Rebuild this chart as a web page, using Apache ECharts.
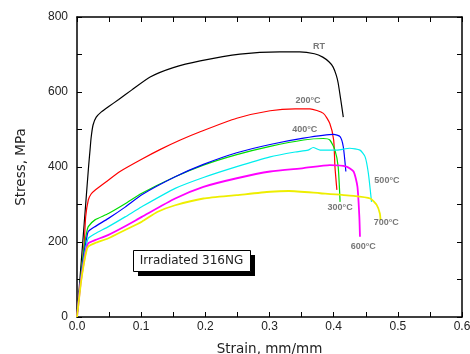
<!DOCTYPE html>
<html><head><meta charset="utf-8">
<script src="https://cdn.jsdelivr.net/npm/echarts@6/dist/echarts.min.js"></script>
<style>html,body{margin:0;padding:0;background:#fff}#c{width:470px;height:354px}</style>
</head><body><div id="c"></div>
<script>
// ---- data ----
const seriesNames = ['RT', '200°C', '300°C', '400°C', '500°C', '600°C', '700°C'];
const rtStrain   = [0,0.0045,0.009,0.0135,0.018,0.0203,0.022,0.025,0.03,0.038,0.05,0.065,0.085,0.114,0.15,0.192,0.254,0.316,0.347,0.37,0.383,0.393,0.399,0.404,0.407,0.411,0.415];
const rtStress   = [0,100,200,300,400,445,478,512,533,547,562,580,605,640,665,683,701,707,707,702,693,680,667,645,624,580,533];
const t200Strain = [0,0.006,0.0114,0.0135,0.0176,0.022,0.028,0.045,0.067,0.1,0.13,0.161,0.192,0.249,0.301,0.34,0.363,0.384,0.394,0.4,0.402,0.405];
const t200Stress = [0,104,201,267,312,328,338,360,388,420,447,472,494,530,550,555,555,543,516,472,401,339];
const t300Strain = [0,0.006,0.011,0.015,0.0176,0.028,0.049,0.075,0.101,0.153,0.197,0.249,0.301,0.353,0.384,0.394,0.402,0.407,0.41];
const t300Stress = [0,110,185,225,241,259,276,302,330,374,405,433,455,472,476,472,445,401,307];
const t400Strain = [0,0.006,0.011,0.015,0.0176,0.028,0.049,0.075,0.101,0.153,0.197,0.249,0.301,0.353,0.4,0.41,0.415,0.419];
const t400Stress = [0,105,170,210,228,241,263,293,326,374,407,438,460,477,487,481,454,388];
const t500Strain = [0,0.006,0.011,0.015,0.0176,0.028,0.049,0.075,0.101,0.153,0.197,0.249,0.301,0.34,0.36,0.368,0.379,0.405,0.425,0.441,0.449,0.454,0.459];
const t500Stress = [0,100,160,195,210,222,241,267,294,343,372,401,427,440,445,452,445,445,450,445,427,384,307];
const t600Strain = [0,0.006,0.011,0.015,0.0176,0.028,0.049,0.075,0.101,0.153,0.197,0.249,0.301,0.353,0.394,0.42,0.431,0.437,0.44,0.441];
const t600Stress = [0,95,150,185,197,205,219,242,267,316,347,370,388,397,405,401,388,348,268,214];
const t700Strain = [0,0.006,0.011,0.015,0.0176,0.028,0.049,0.075,0.101,0.125,0.153,0.197,0.249,0.301,0.33,0.379,0.431,0.457,0.467,0.472,0.473];
const t700Stress = [0,90,145,178,188,197,210,232,254,280,298,316,325,334,336,330,323,316,299,276,259];
const labelStrain = [0.377,0.360,0.410,0.355,0.483,0.446,0.482];
const labelStress = [720,576,293,499,365,189,251];
const xTicks = ['0.0','0.1','0.2','0.3','0.4','0.5','0.6'];
const yTicks = ['0','200','400','600','800'];

const strains = [rtStrain,t200Strain,t300Strain,t400Strain,t500Strain,t600Strain,t700Strain];
const stresses = [rtStress,t200Stress,t300Stress,t400Stress,t500Stress,t600Stress,t700Stress];
const colors = ['#000000','#ff0000','#00dd00','#0000ff','#00eeee','#ff00ff','#eeee00'];
const widths = [1.2,1.2,1.2,1.2,1.2,1.8,1.8];

const chart = echarts.init(document.getElementById('c'), null, {renderer:'canvas'});
const font = 'Liberation Sans, Arial, sans-serif';
const lines = seriesNames.map((n,i)=>({
  name:n, type:'line', showSymbol:false, symbol:'none', animation:false,
  smooth:0.2,
  lineStyle:{color:colors[i], width:widths[i]},
  data: strains[i].map((x,k)=>[x, stresses[i][k]]), z:2
}));
const labelSeries = {
  type:'scatter', symbolSize:0, animation:false, silent:true,
  data: seriesNames.map((n,i)=>({value:[labelStrain[i],labelStress[i]], name:n})),
  label:{show:true, position:'inside', formatter:p=>p.name, color:'#555', fontSize:9, fontWeight:'bold', fontFamily:font}
};
const axisCommon = {
  axisLine:{show:true, onZero:false, lineStyle:{color:'#000', width:1.5}},
  axisTick:{show:true, inside:true, length:5, lineStyle:{color:'#000', width:1}},
  minorTick:{show:true, splitNumber:2, length:5, lineStyle:{color:'#000', width:1}},
  splitLine:{show:false}
};
chart.setOption({
  animation:false,
  backgroundColor:'#fff',
  grid:{left:77, right:8, top:17, bottom:37, show:false, containLabel:false, outerBoundsMode:'none'},
  xAxis:[
    Object.assign({type:'value', min:0, max:0.6, interval:0.1, position:'bottom',
      name:'Strain, mm/mm', nameLocation:'middle', nameGap:25,
      nameTextStyle:{fontFamily:'DejaVu Sans', fontSize:13.5, color:'#222'},
      axisLabel:{formatter:v=>xTicks[Math.round(v*10)], fontFamily:font, fontSize:12, color:'#222', margin:4}}, axisCommon),
    Object.assign({type:'value', min:0, max:0.6, interval:0.1, position:'top', axisLabel:{show:false}}, axisCommon)
  ],
  yAxis:[
    Object.assign({type:'value', min:0, max:800, interval:200, position:'left',
      name:'Stress, MPa', nameLocation:'middle', nameGap:49, nameRotate:90,
      nameTextStyle:{fontFamily:'DejaVu Sans', fontSize:13.5, color:'#222'},
      axisLabel:{formatter:v=>yTicks[Math.round(v/200)], fontFamily:font, fontSize:12, color:'#222', margin:9}}, axisCommon),
    Object.assign({type:'value', min:0, max:800, interval:200, position:'right', axisLabel:{show:false}}, axisCommon)
  ],
  graphic:[
    {type:'rect', left:138, top:255, shape:{width:117, height:21}, style:{fill:'#000'}, z:10},
    {type:'rect', left:133, top:250, shape:{width:117, height:21}, style:{fill:'#fff', stroke:'#000', lineWidth:1}, z:11},
    {type:'text', z:12, style:{text:'Irradiated 316NG', fontFamily:'DejaVu Sans', fontSize:12, fill:'#222', x:191.5, y:261, align:'center', verticalAlign:'middle'}}
  ],
  series: lines.concat([labelSeries])
});
</script></body></html>
